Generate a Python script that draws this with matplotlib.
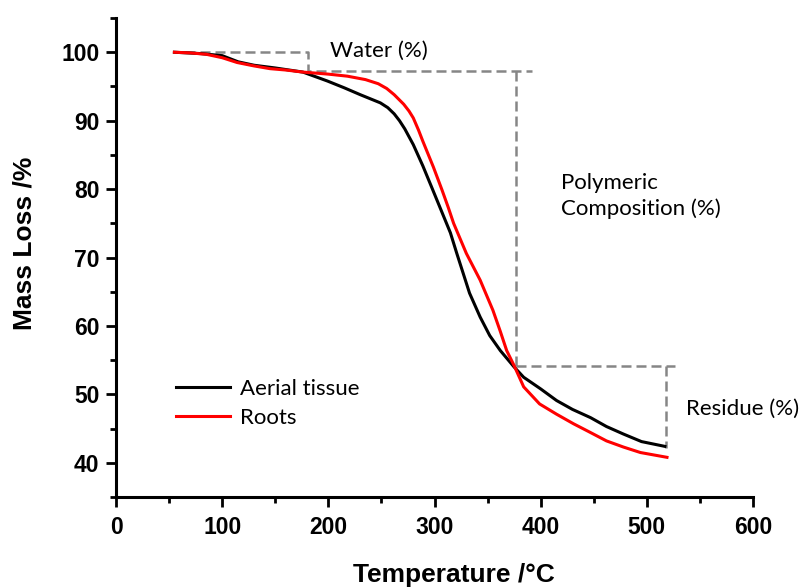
import matplotlib
matplotlib.use('Agg')
import matplotlib.pyplot as plt
from matplotlib.ticker import MultipleLocator

# TGA curves (temperature in degC, mass in %)
aerial_temp = [55, 80, 100, 115, 130, 150, 176, 199, 215, 230, 249, 256, 262, 267, 272, 280, 289, 297, 306, 315, 321, 327, 333, 343, 352, 362, 375, 384, 400, 415, 430, 447, 462, 478, 495, 517]
aerial_mass = [100.0, 99.8, 99.5, 98.6, 98.1, 97.7, 97.1, 95.8, 94.8, 93.8, 92.6, 91.9, 91.0, 90.0, 88.8, 86.5, 83.4, 80.4, 77.0, 73.6, 70.6, 67.7, 64.8, 61.3, 58.6, 56.4, 54.0, 52.5, 50.8, 49.1, 47.8, 46.6, 45.3, 44.2, 43.1, 42.4]

roots_temp = [55, 70, 85, 100, 114, 130, 145, 160, 176, 200, 218, 235, 247, 255, 262, 271, 276, 280, 285, 289, 299, 307, 313, 318, 330, 343, 355, 362, 368, 375, 384, 399, 415, 431, 446, 462, 478, 494, 519]
roots_mass = [100.0, 99.9, 99.7, 99.2, 98.5, 98.0, 97.6, 97.4, 97.1, 96.8, 96.5, 96.0, 95.4, 94.7, 93.8, 92.4, 91.4, 90.4, 88.6, 87.0, 83.2, 79.9, 77.3, 75.0, 70.6, 66.7, 62.3, 59.2, 56.4, 54.2, 51.1, 48.6, 47.1, 45.7, 44.5, 43.2, 42.3, 41.5, 40.8]

# step guides (water / polymeric / residue)
water_x = [65, 181, 181, 392]
water_y = [100, 100, 97.2, 97.2]
poly_x = [377, 377]
poly_y = [97.2, 54.2]
residue_x = [377, 527, 518, 518]
residue_y = [54.2, 54.2, 54.2, 42.2]

TICK_FONT = 'Liberation Sans'
NOTE_FONT = 'Lato'

fig = plt.figure(figsize=(8.03, 5.87), dpi=100)
ax = fig.add_axes([0.1445, 0.1533, 0.7932, 0.816])

ax.plot(aerial_temp, aerial_mass, color='black', lw=2.2, label='Aerial tissue', zorder=3)
ax.plot(roots_temp, roots_mass, color='#ff0000', lw=2.2, label='Roots', zorder=3)

dash = dict(color='#868686', lw=1.8, ls=(0, (4, 2)), zorder=2)
ax.plot(water_x, water_y, **dash)
ax.plot(poly_x, poly_y, **dash)
ax.plot(residue_x[:2], residue_y[:2], **dash)
ax.plot(residue_x[2:], residue_y[2:], **dash)

ax.text(201.5, 100.2, 'Water (%)', fontsize=16, family=NOTE_FONT, va='center', ha='left')
ax.text(419, 79.0, 'Polymeric\nComposition (%)', fontsize=16, family=NOTE_FONT, va='center', ha='left', linespacing=1.3)
ax.text(537, 47.9, 'Residue (%)', fontsize=16, family=NOTE_FONT, va='center', ha='left', clip_on=False)

ax.set_xlim(0, 600)
ax.set_ylim(35, 105)
ax.xaxis.set_major_locator(MultipleLocator(100))
ax.xaxis.set_minor_locator(MultipleLocator(50))
ax.yaxis.set_minor_locator(MultipleLocator(5))
ax.set_yticks([40, 50, 60, 70, 80, 90, 100])

for side in ['top', 'right']:
	ax.spines[side].set_visible(False)
for side in ['left', 'bottom']:
	ax.spines[side].set_linewidth(2.2)

ax.tick_params(which='major', direction='out', length=7, width=2.0)
ax.tick_params(axis='y', which='major', pad=5)
ax.tick_params(axis='x', which='major', pad=7)
ax.tick_params(which='minor', direction='out', length=4, width=2.0)
for lab in ax.get_xticklabels() + ax.get_yticklabels():
	lab.set_fontfamily(TICK_FONT)
	lab.set_fontweight('bold')
	lab.set_fontsize(16.5)

ax.set_xlabel('Temperature /°C', fontsize=19, fontweight='bold', family=TICK_FONT)
ax.set_ylabel('Mass Loss /%', fontsize=19, fontweight='bold', family=TICK_FONT)
ax.xaxis.set_label_coords(0.531, -0.137)
ax.yaxis.set_label_coords(-0.125, 0.53)

leg = ax.legend(loc='upper left', bbox_to_anchor=(0.094, 0.247), frameon=False,
	prop={'family': NOTE_FONT, 'size': 16}, handlelength=2.45, handletextpad=0.42,
	labelspacing=0.4, borderpad=0, borderaxespad=0)

fig.savefig('out.png', dpi=100)
